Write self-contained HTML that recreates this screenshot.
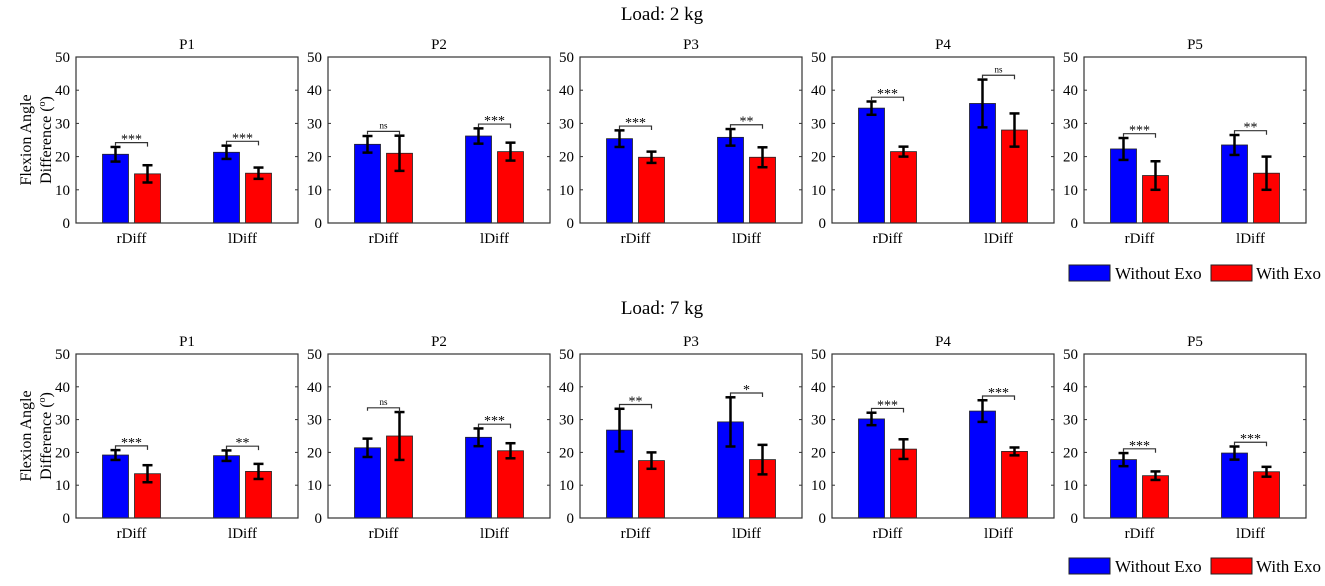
<!DOCTYPE html>
<html><head><meta charset="utf-8"><style>
body{margin:0;background:#fff;}
svg text{font-family:"Liberation Serif",serif;fill:#000;}
</style></head><body>
<svg id="chart" width="1325" height="581" xmlns="http://www.w3.org/2000/svg"></svg>
<script>
const categories = ["rDiff","lDiff"];
const panelNames = ["P1","P2","P3","P4","P5"];
const yTicks = [0,10,20,30,40,50];
// Load 2 kg
const top_without = [[20.7,21.3],[23.7,26.2],[25.4,25.8],[34.6,36.0],[22.3,23.5]];
const top_withoutErr = [[2.2,2.0],[2.5,2.3],[2.5,2.5],[2.0,7.2],[3.3,3.0]];
const top_with = [[14.8,15.0],[21.0,21.5],[19.8,19.8],[21.5,28.0],[14.3,15.0]];
const top_withErr = [[2.6,1.7],[5.3,2.7],[1.7,3.0],[1.5,5.0],[4.3,5.0]];
const top_sig = [["***","***"],["ns","***"],["***","**"],["***","ns"],["***","**"]];
// Load 7 kg
const bot_without = [[19.2,19.0],[21.4,24.6],[26.8,29.3],[30.2,32.6],[17.8,19.8]];
const bot_withoutErr = [[1.5,1.6],[2.8,2.7],[6.5,7.5],[1.9,3.3],[2.0,2.0]];
const bot_with = [[13.5,14.2],[25.0,20.5],[17.5,17.8],[21.0,20.3],[12.9,14.1]];
const bot_withErr = [[2.6,2.3],[7.3,2.3],[2.5,4.5],[3.0,1.2],[1.3,1.5]];
const bot_sig = [["***","**"],["ns","***"],["**","*"],["***","***"],["***","***"]];

const svg = document.getElementById('chart');
const NS = "http://www.w3.org/2000/svg";
function mk(tag, attrs, parent, txt){
  const e = document.createElementNS(NS, tag);
  for (const k in attrs) e.setAttribute(k, attrs[k]);
  if (txt !== undefined) e.textContent = txt;
  (parent||svg).appendChild(e); return e;
}
const panelLeft = [76,328,580,832,1084];
const panelW = 222;

function drawRow(title, titleY, y0, y50, W, WE, R, RE, S, legendY, rowName){
  const row = mk('g', {});
  
  
  const t = mk('text', {x:662, y:titleY, 'text-anchor':'middle', 'font-size':19}, row, title);
  
  
  const ys = v => y0 + (y50 - y0) * v / 50;
  for (let p = 0; p < 5; p++){
    const L = panelLeft[p];
    const xs = c => L + panelW * (c - 0.5) / 2;
    const g = mk('g', {}, row);
    
    
    const pt = mk('text', {x:L + panelW/2, y:y50 - 8, 'text-anchor':'middle', 'font-size':15}, g, panelNames[p]);
    
    
    yTicks.forEach(v => {
      const lb = mk('text', {x:L - 6, y:ys(v) + 5, 'text-anchor':'end', 'font-size':15}, g, String(v));
      
      
      mk('line', {x1:L, x2:L+3, y1:ys(v), y2:ys(v), stroke:'#333', 'stroke-width':1}, g);
      mk('line', {x1:L+panelW, x2:L+panelW-3, y1:ys(v), y2:ys(v), stroke:'#333', 'stroke-width':1}, g);
    });
    categories.forEach((c, i) => {
      const cx = xs(i + 1);
      const cl = mk('text', {x:cx, y:y0 + 20, 'text-anchor':'middle', 'font-size':15}, g, c);
      
      
      const series = [[W[p][i], WE[p][i], '#0000ff', -16, 'bar-without-exo'], [R[p][i], RE[p][i], '#ff0000', 16, 'bar-with-exo']];
      series.forEach(s => {
        const bx = cx + s[3];
        const b = mk('rect', {x:bx - 13, y:ys(s[0]), width:26, height:y0 - ys(s[0]), fill:s[2], stroke:'#222', 'stroke-width':0.8}, g);
        
        
        const eg = mk('g', {stroke:'#000', 'stroke-width':2.5}, g);
        
        
        mk('line', {x1:bx, x2:bx, y1:ys(s[0]-s[1]), y2:ys(s[0]+s[1])}, eg);
        mk('line', {x1:bx-5, x2:bx+5, y1:ys(s[0]-s[1]), y2:ys(s[0]-s[1])}, eg);
        mk('line', {x1:bx-5, x2:bx+5, y1:ys(s[0]+s[1]), y2:ys(s[0]+s[1])}, eg);
      });
      const top = Math.max(W[p][i] + WE[p][i], R[p][i] + RE[p][i]);
      const by = ys(top + 1.3);
      const br = mk('path', {d:`M${cx-16},${by+3}V${by}H${cx+16}V${by+4}`, fill:'none', stroke:'#333', 'stroke-width':1.2}, g);
      
      
      const sig = S[p][i];
      const st = mk('text', {x:cx, y:sig === 'ns' ? by - 3 : by + 1, 'text-anchor':'middle', 'font-size':sig === 'ns' ? 9 : 14, 'font-family':'Liberation Sans, sans-serif'}, g, sig);
      
      
    });
    const box = mk('rect', {x:L, y:y50, width:panelW, height:y0 - y50, fill:'none', stroke:'#333', 'stroke-width':1.2}, g);
    
    
  }
  const yl = mk('text', {transform:`translate(31,${(y0+y50)/2}) rotate(-90)`, 'text-anchor':'middle', 'font-size':16}, row);
  
  
  mk('tspan', {x:0, dy:0}, yl, 'Flexion Angle');
  mk('tspan', {x:0, dy:20}, yl, 'Difference (');
  mk('tspan', {'font-size':10, dy:-6}, yl, 'o');
  mk('tspan', {dy:6}, yl, ')');
  const lg = mk('g', {}, row);
  
  
  const e1 = mk('rect', {x:1069, y:legendY, width:41, height:16, fill:'#0000ff', stroke:'#222'}, lg);
  
  
  const l1 = mk('text', {x:1115, y:legendY + 14, 'font-size':17}, lg, 'Without Exo');
  
  
  const e2 = mk('rect', {x:1211, y:legendY, width:41, height:16, fill:'#ff0000', stroke:'#222'}, lg);
  
  
  const l2 = mk('text', {x:1256, y:legendY + 14, 'font-size':17}, lg, 'With Exo');
  
  
}
drawRow('Load: 2 kg', 20, 223, 57, top_without, top_withoutErr, top_with, top_withErr, top_sig, 265, 'load-2kg');
drawRow('Load: 7 kg', 314, 518, 354, bot_without, bot_withoutErr, bot_with, bot_withErr, bot_sig, 558, 'load-7kg');
</script>
</body></html>
